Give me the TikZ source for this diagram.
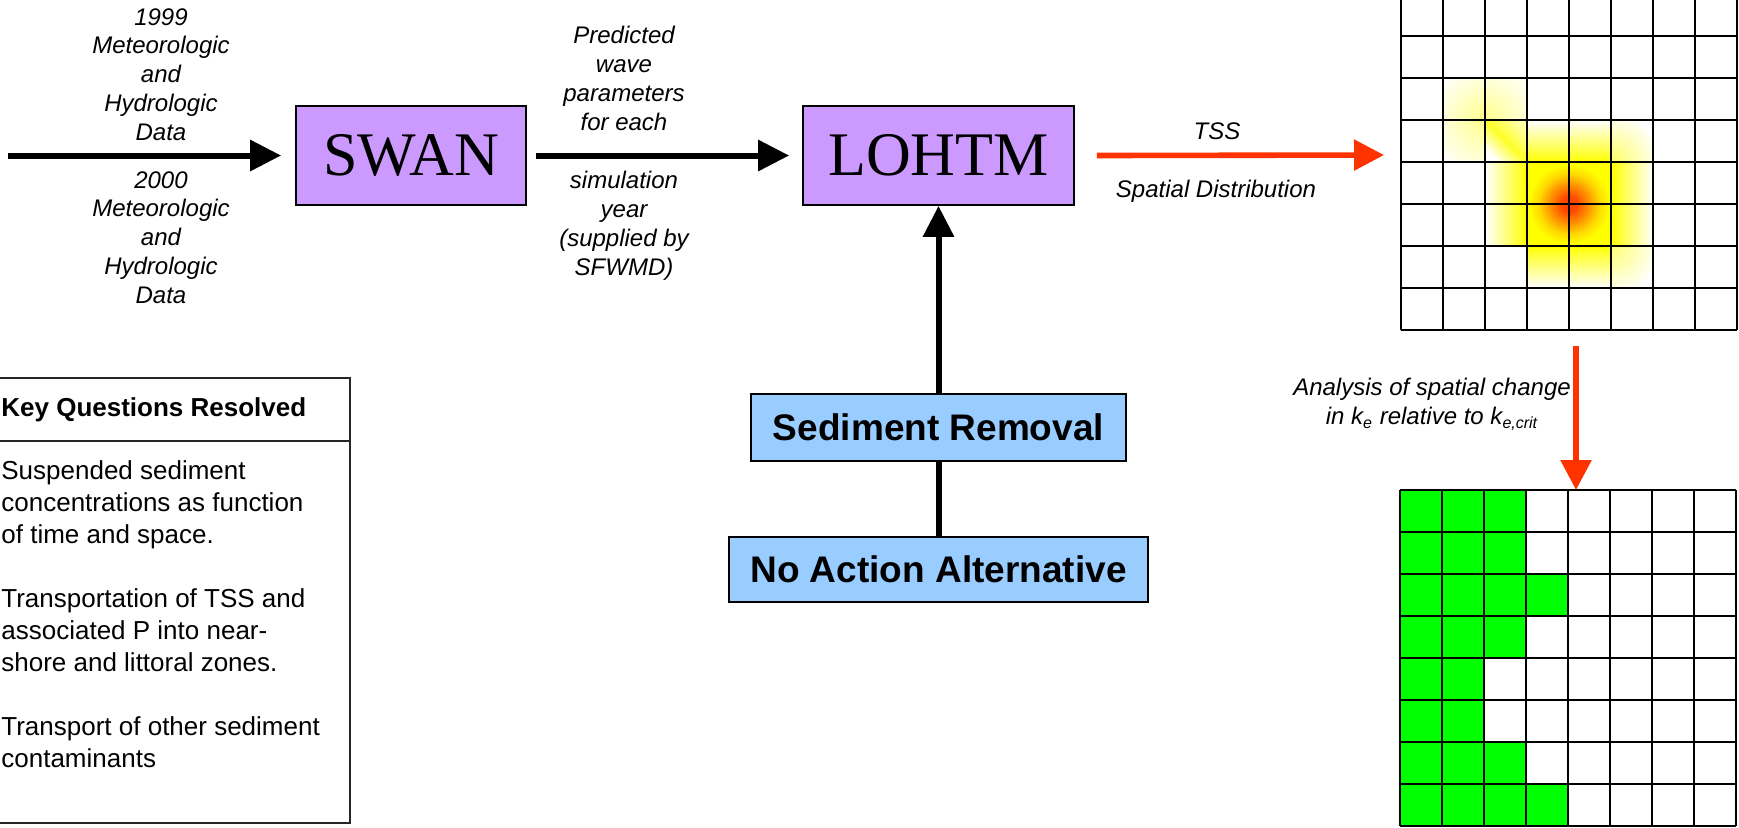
\documentclass[tikz,border=0pt]{standalone}
\usepackage{fontspec}
\setmainfont{Liberation Sans}
\newfontfamily\timesfont{Liberation Serif}
\usetikzlibrary{arrows.meta}
\definecolor{swanpurple}{HTML}{CC99FF}
\definecolor{altblue}{HTML}{99CCFF}
\definecolor{tssred}{HTML}{FF3300}
\definecolor{cellgreen}{HTML}{00FF00}
\pgfdeclareradialshading{heatcore}{\pgfpoint{0bp}{0bp}}{rgb(0bp)=(1,0.22,0); rgb(5bp)=(1,0.3,0); rgb(11bp)=(1,0.55,0); rgb(18bp)=(1,0.85,0); rgb(24bp)=(1,1,0); rgb(50bp)=(1,1,0)}
\tikzset{
  blk/.style={line width=3pt, -{Triangle[length=15.5pt,width=15pt]}},
  plainline/.style={line width=3pt},
  redarr/.style={draw=tssred, line width=2.8pt, -{Triangle[length=15pt,width=15pt]}},
  model/.style={draw=black, line width=0.85pt, fill=swanpurple, inner sep=0pt,
    font=\timesfont\fontsize{31}{37}\selectfont},
  altbox/.style={draw=black, line width=0.85pt, fill=altblue, inner sep=0pt,
    font=\bfseries\fontsize{18.5}{22}\selectfont},
  lbl/.style={font=\fontsize{12}{14.4}\selectfont\itshape, align=center, inner sep=0pt},
  gridline/.style={line width=1pt, draw=black},
  keyline/.style={line width=1pt, draw=black!85},
}
\begin{document}
\begin{tikzpicture}[x=0.5pt,y=-0.5pt]
\useasboundingbox (0,0) rectangle (1739,827);
\clip (0,0) rectangle (1739,827);

% ---------- model boxes ----------
\node[model, minimum width=115pt, minimum height=49.5pt] (swan) at (411,155.5) {SWAN};
\node[model, minimum width=135.5pt, minimum height=49.5pt] (lohtm) at (938.5,155.5) {LOHTM};
\node[altbox, minimum width=187.5pt, minimum height=33.5pt] (sed) at (938.5,427.5) {Sediment Removal};
\node[altbox, minimum width=209.5pt, minimum height=32.5pt] (noact) at (938.5,569.5) {No Action Alternative};

% ---------- labels ----------
\node[lbl, anchor=north] (l1999) at (161,8) {1999\\Meteorologic\\and\\Hydrologic\\Data};
\node[lbl, anchor=north] (l2000) at (161,171) {2000\\Meteorologic\\and\\Hydrologic\\Data};
\node[lbl, anchor=north] (lpred) at (624,26) {Predicted\\wave\\parameters\\for each};
\node[lbl, anchor=north] (lsim) at (624,171) {simulation\\year\\(supplied by\\SFWMD)};
\node[lbl, anchor=north] (ltss) at (1217,122) {TSS};
\node[lbl, anchor=north] (lspat) at (1216,180) {Spatial Distribution};
\node[lbl, anchor=north] (lana) at (1432,378) {Analysis of spatial change\\in k\textsubscript{e} relative to k\textsubscript{e,crit}};

% ---------- key questions box ----------
\node[keyline, draw, minimum width=185pt, minimum height=222.5pt, inner sep=0pt] (keybox) at (165,600.5) {};
\draw[keyline] ([yshift=-32pt]keybox.north west) -- ([yshift=-32pt]keybox.north east);
\node[anchor=north west, inner sep=0pt, font=\bfseries\fontsize{13}{16}\selectfont] (khead) at (1,397) {Key Questions Resolved};
\node[anchor=north west, inner sep=0pt, align=left, font=\fontsize{13}{16}\selectfont] (ktext) at (1,460)
  {Suspended sediment\\concentrations as function\\of time and space.\\[16pt]Transportation of TSS and\\associated P into near-\\shore and littoral zones.\\[16pt]Transport of other sediment\\contaminants};

% ---------- heat map (grid 1) ----------
\shade[shading=heatcore] (1527,162) rectangle (1611,246);
\shade[top color=white, bottom color=yellow] (1527,120) rectangle (1611,162);
\shade[top color=yellow, bottom color=white] (1527,246) rectangle (1611,288);
\shade[left color=white, right color=yellow] (1485,162) rectangle (1527,246);
\shade[left color=yellow, right color=white] (1611,162) rectangle (1653,246);
\begin{scope}
  \clip (1611,120) rectangle (1653,162);
  \shade[inner color=yellow!60, outer color=white] (1611,162) circle[radius=50];
\end{scope}
\begin{scope}
  \clip (1611,246) rectangle (1653,288);
  \shade[inner color=yellow!55, outer color=white] (1611,246) circle[radius=50];
\end{scope}
\begin{scope}
  \clip (1443,78) rectangle (1527,120) (1443,120) rectangle (1485,162);
  \shade[inner color=yellow!45, outer color=white] (1485,120) circle[radius=60];
\end{scope}
\shade[top color=yellow!35, bottom color=white, middle color=yellow!85, shading angle=-45] (1485,120) rectangle (1527,162);

\foreach \i in {0,...,8} {
  \draw[gridline] ({1401+42*\i},-6) -- ({1401+42*\i},330);
  \draw[gridline] (1401,{-6+42*\i}) -- (1737,{-6+42*\i});
}
\coordinate (g1) at (1401,155);

% ---------- grid 2 ----------
\foreach \r/\n in {0/3,1/3,2/4,3/3,4/2,5/2,6/3,7/4}
  \fill[cellgreen] (1400,{490+42*\r}) rectangle ({1400+42*\n},{532+42*\r});
\foreach \i in {0,...,8} {
  \draw[gridline] ({1400+42*\i},490) -- ({1400+42*\i},826);
  \draw[gridline] (1400,{490+42*\i}) -- (1736,{490+42*\i});
}
\coordinate (g2top) at (1576,490);
\coordinate (anastart) at (1576,346);
\coordinate (in1) at (8,155.5);

% ---------- connectors ----------
\draw[blk] (in1) -- ([xshift=-7pt]swan.west);
\draw[blk] ([xshift=4.5pt]swan.east) -- ([xshift=-6.5pt]lohtm.west);
\draw[redarr] ([xshift=11pt]lohtm.east) -- ([xshift=-8.5pt]g1);
\draw[blk] (sed.north) -- (lohtm.south);
\draw[plainline] (noact.north) -- (sed.south);
\draw[redarr] (anastart) -- (g2top);
\end{tikzpicture}
\end{document}
